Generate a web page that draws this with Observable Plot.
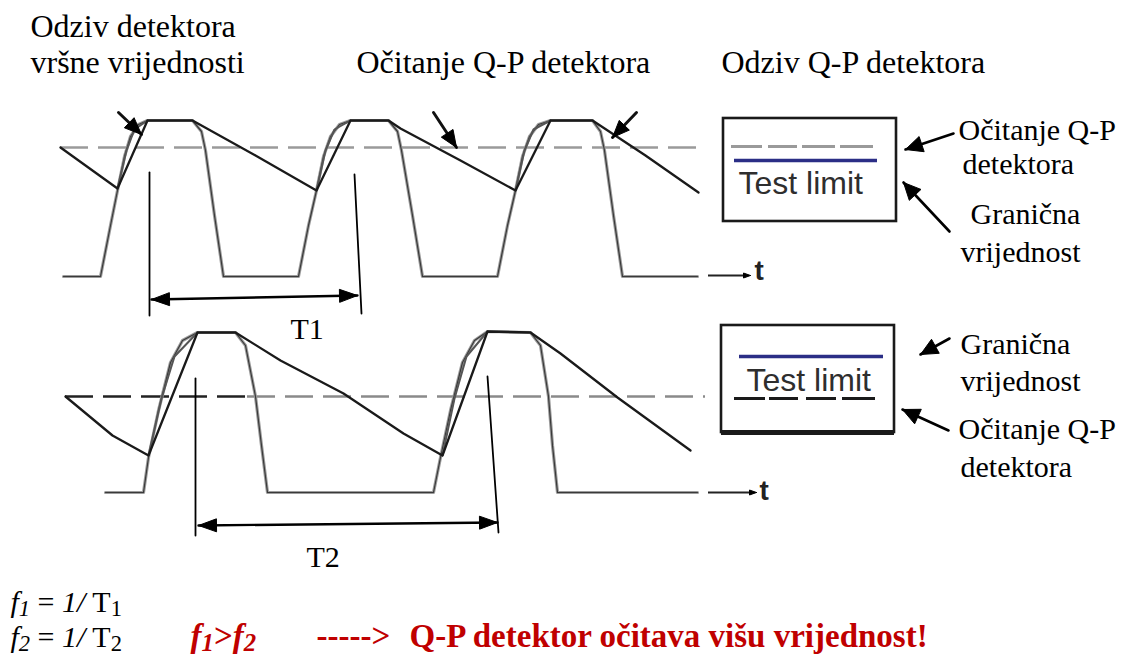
<!DOCTYPE html>
<html><head><meta charset="utf-8">
<script src="https://cdn.jsdelivr.net/npm/d3@7"></script>
<script src="https://cdn.jsdelivr.net/npm/@observablehq/plot@0.6"></script>
<style>body{margin:0;background:#fff}</style>
</head><body><div id="chart"></div>
<script>
// ---------- data (diagram coordinates) ----------
const topPulse = [[63,276],[100,276],[110,225],[117,190],[124,156],[130,136],[138,124],[147,120],[192,120],[201,131],[205,150],[214,215],[223,276],[298,276],[308,225],[316,190],[323,156],[330,136],[339,124],[350,120],[388,120],[397,131],[401,150],[412,215],[422,276],[497,276],[507,225],[515,190],[522,156],[529,136],[538,124],[550,120],[592,120],[600,131],[604,150],[613,215],[622,276],[697,276]];
const topQP = [[60,147],[117,188],[147,120],[192,120],[255,155],[316,190],[350,120],[388,120],[400,128],[460,160],[515,190],[550,120],[592,120],[645,155],[698,192]];
const topPeak = [[[117,188],[126,150],[134,129],[147,120]],[[316,190],[325,150],[334,129],[350,120]],[[515,190],[524,150],[533,129],[550,120]]];
const botPulse = [[105,492],[143,492],[148,457],[158,410],[170,362],[182,340],[197,332],[235,332],[245,345],[255,396],[261,445],[267,492],[433,492],[440,457],[450,410],[462,362],[474,340],[487,331],[530,332],[540,345],[548,396],[552,445],[557,492],[697,492]];
const botQP = [[65,396],[112,435],[148,455],[197,332],[235,332],[280,360],[343,393],[403,433],[442,455],[487,331],[530,332],[560,353],[617,397],[690,450]];
const botPeak = [[[148,455],[161,398],[174,356],[197,332]],[[442,455],[454,398],[466,356],[487,331]]];
const refLevels = [{y:147, x1:60, x2:700, c:"#9a9a9a"},{y:396, x1:65, x2:247, c:"#222"},{y:396, x1:247, x2:705, c:"#8a8a8a"}];
const timeAxes = [{y:275, x1:708, x2:750},{y:492, x1:708, x2:756}];
const periodTicks = [[[149,172],[149,315]],[[354,174],[361,313]],[[195,378],[195,535]],[[487,376],[498,532]]];
const periodSpans = [{a:[151,299], b:[357,295]},{a:[198,525], b:[497,522]}];
const pointers = [{from:[118,112], to:[141,134]},{from:[433,112], to:[456,147]},{from:[636,112], to:[612,137]}];
const calloutArrows = [{from:[953,133], to:[905,149]},{from:[949,231], to:[903,182]},{from:[949,338], to:[920,354]},{from:[948,430], to:[902,409]}];
const boxes = [{x1:723,x2:896,y1:118,y2:221},{x1:721,x2:894,y1:325,y2:432}];
const boxDashes = [{y:146, c:"#9a9a9a", segs:[[731,762],[768,797],[802,835],[840,873]]},{y:398, c:"#1a1a1a", segs:[[734,765],[769,798],[806,836],[842,875]]}];
const limitLines = [{y:160, x1:734, x2:877},{y:356, x1:739, x2:883}];
const limitTexts = [{text:"Test limit", x:738, y:193},{text:"Test limit", x:746, y:390}];
const headerLabels = [{text:"Odziv detektora", x:30, y:36},{text:"vršne vrijednosti", x:30, y:72},{text:"Očitanje Q-P detektora", x:356, y:72},{text:"Odziv Q-P detektora", x:721, y:72}];
const sideLabels = [{text:"Očitanje Q-P", x:958, y:139},{text:"detektora", x:962, y:173},{text:"Granična", x:970, y:223},{text:"vrijednost", x:960, y:261},{text:"Granična", x:960, y:353},{text:"vrijednost", x:960, y:390},{text:"Očitanje Q-P", x:958, y:438},{text:"detektora", x:960, y:476}];
const periodLabels = [{text:"T1", x:290, y:338},{text:"T2", x:306, y:566}];
const tLabels = [{text:"t", x:754, y:279},{text:"t", x:759, y:499}];
const formulas = [{text:"*f_1* = *1/* T_1", x:10, y:611},{text:"*f_2* = *1/* T_2", x:10, y:646}];
const conclusion = [{text:"*f_1*>*f_2*", x:190, y:646},{text:"----->", x:316, y:646},{text:"Q-P detektor očitava višu vrijednost!", x:409, y:646}];

// ---------- helpers ----------
const toPts = (arr, id) => arr.map(([x,y]) => ({x, y, id}));
function tri(tip, tail, len, hw, id) {
  const dx = tip[0]-tail[0], dy = tip[1]-tail[1], L = Math.hypot(dx,dy);
  const ux = dx/L, uy = dy/L, bx = tip[0]-ux*len, by = tip[1]-uy*len;
  return [[tip[0],tip[1]],[bx-uy*hw,by+ux*hw],[bx+uy*hw,by-ux*hw],[tip[0],tip[1]]].map(([x,y])=>({x,y,id}));
}
const peakPts = [...topPeak, ...botPeak].flatMap((p,i)=>toPts(p,"p"+i));
const tickPts = periodTicks.flatMap((p,i)=>toPts(p,"t"+i));
const spanPts = periodSpans.flatMap((s,i)=>toPts([s.a,s.b],"s"+i));
const heads = [
  ...periodSpans.flatMap((s,i)=>[...tri(s.a,s.b,18,6.5,"sa"+i), ...tri(s.b,s.a,18,6.5,"sb"+i)]),
  ...pointers.flatMap((p,i)=>tri(p.to,p.from,17,7,"pt"+i)),
  ...calloutArrows.flatMap((p,i)=>tri(p.to,p.from,17,8,"ca"+i)),
  ...timeAxes.flatMap((a,i)=>tri([a.x2,a.y],[a.x1,a.y],7,2.5,"ta"+i))
];
const pointerShafts = pointers.flatMap((p,i)=>toPts([p.from,p.to],"ps"+i));
const calloutShafts = calloutArrows.flatMap((p,i)=>toPts([p.from,p.to],"cs"+i));
const dashSegs = boxDashes.flatMap(d=>d.segs.map(([x1,x2])=>({x1,x2,y:d.y,c:d.c})));
const serif = "'Liberation Serif', 'Times New Roman', serif";
const sans = "'Liberation Sans', Arial, sans-serif";

const chart = Plot.plot({
  width: 1132, height: 658, margin: 0,
  x: {domain:[0,1132], range:[0,1132], axis:null},
  y: {domain:[0,658], range:[0,658], axis:null},
  style: {background:"#fff", overflow:"visible"},
  marks: [
    Plot.ruleY(refLevels, {y:"y", x1:"x1", x2:"x2", stroke:d=>d.c, strokeWidth:2.6, strokeDasharray:"28,10"}),
    Plot.line(toPts(topPulse,"a"), {x:"x", y:"y", stroke:"#9c9c9c", strokeWidth:3.2}),
    Plot.line(toPts(botPulse,"b"), {x:"x", y:"y", stroke:"#9c9c9c", strokeWidth:3.2}),
    Plot.line(toPts(topPulse,"a"), {x:"x", y:"y", stroke:"#3a3a3a", strokeWidth:1.2}),
    Plot.line(toPts(botPulse,"b"), {x:"x", y:"y", stroke:"#3a3a3a", strokeWidth:1.2}),
    Plot.line(peakPts, {x:"x", y:"y", z:"id", stroke:"#555", strokeWidth:2}),
    Plot.line(toPts(topQP,"q"), {x:"x", y:"y", stroke:"#1a1a1a", strokeWidth:2.3}),
    Plot.line(toPts(botQP,"r"), {x:"x", y:"y", stroke:"#1a1a1a", strokeWidth:2.3}),
    Plot.ruleY(timeAxes, {y:"y", x1:"x1", x2:d=>d.x2-4, stroke:"#222", strokeWidth:2}),
    Plot.line(tickPts, {x:"x", y:"y", z:"id", stroke:"#000", strokeWidth:1.8}),
    Plot.line(spanPts, {x:"x", y:"y", z:"id", stroke:"#000", strokeWidth:2.4}),
    Plot.line(pointerShafts, {x:"x", y:"y", z:"id", stroke:"#111", strokeWidth:3}),
    Plot.line(calloutShafts, {x:"x", y:"y", z:"id", stroke:"#000", strokeWidth:2.6}),
    Plot.line(heads, {x:"x", y:"y", z:"id", fill:"#000", stroke:"#000", strokeWidth:1}),
    Plot.rect(boxes, {x1:"x1", x2:"x2", y1:"y1", y2:"y2", fill:"#fff", stroke:"#1a1a1a", strokeWidth:2.6}),
    Plot.ruleY([boxes[1]], {y:"y2", x1:"x1", x2:"x2", stroke:"#1a1a1a", strokeWidth:5}),
    Plot.ruleY(dashSegs, {y:"y", x1:"x1", x2:"x2", stroke:d=>d.c, strokeWidth:3}),
    Plot.ruleY(limitLines, {y:"y", x1:"x1", x2:"x2", stroke:"#2b2e86", strokeWidth:3.5}),
    Plot.text(limitTexts, {x:"x", y:"y", text:"text", textAnchor:"start", lineAnchor:"bottom", fontFamily:sans, fontSize:32, fill:"#2e2e2e"}),
    Plot.text(headerLabels, {x:"x", y:"y", text:"text", textAnchor:"start", lineAnchor:"bottom", fontFamily:serif, fontSize:32, fill:"#000"}),
    Plot.text(sideLabels, {x:"x", y:"y", text:"text", textAnchor:"start", lineAnchor:"bottom", fontFamily:serif, fontSize:30, fill:"#000"}),
    Plot.text(periodLabels, {x:"x", y:"y", text:"text", textAnchor:"start", lineAnchor:"bottom", fontFamily:serif, fontSize:30, fill:"#000"}),
    Plot.text(tLabels, {x:"x", y:"y", text:"text", textAnchor:"start", lineAnchor:"bottom", fontFamily:sans, fontSize:28, fontWeight:"bold", fill:"#222"}),
    Plot.text(formulas, {x:"x", y:"y", text:"text", textAnchor:"start", lineAnchor:"bottom", fontFamily:serif, fontSize:30, fill:"#000"}),
    Plot.text(conclusion, {x:"x", y:"y", text:"text", textAnchor:"start", lineAnchor:"bottom", fontFamily:serif, fontSize:33, fontWeight:"bold", fill:"#c00000"})
  ]
});

// rich text: *...* italic, _x subscript
d3.select(chart).selectAll("text").each(function() {
  const s = this.textContent;
  if (!/[*_]/.test(s) || s.startsWith("-")) return;
  this.textContent = "";
  let italic = false; const segs = [];
  for (let i = 0; i < s.length; i++) {
    const c = s[i];
    if (c === "*") { italic = !italic; continue; }
    if (c === "_") { segs.push({t:s[i+1], it:italic, sub:true}); i++; continue; }
    const last = segs[segs.length-1];
    if (last && !last.sub && last.it === italic) last.t += c; else segs.push({t:c, it:italic, sub:false});
  }
  let inSub = false;
  for (const g of segs) {
    const ts = d3.select(this).append("tspan").text(g.t).attr("font-style", g.it ? "italic" : "normal");
    if (g.sub && !inSub) { ts.attr("dy", 4).attr("font-size", "75%"); inSub = true; }
    else if (g.sub) { ts.attr("font-size", "75%"); }
    else if (inSub) { ts.attr("dy", -4); inSub = false; }
  }
});
document.getElementById("chart").appendChild(chart);
</script></body></html>
